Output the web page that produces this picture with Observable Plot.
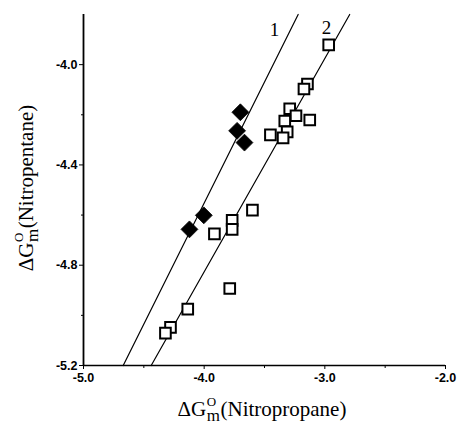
<!DOCTYPE html>
<html>
<head>
<meta charset="utf-8">
<script src="https://cdn.jsdelivr.net/npm/d3@7"></script>
<script src="https://cdn.jsdelivr.net/npm/@observablehq/plot@0.6"></script>
<style>
  html, body { margin: 0; padding: 0; background: #fff; }
  #chart { width: 462px; height: 429px; }
</style>
</head>
<body>
<div id="chart"></div>
<script>
// Series 1 (filled diamonds)
const s1X = [-3.700, -3.727, -3.666, -4.003, -4.122];
const s1Y = [-4.190, -4.264, -4.311, -4.601, -4.657];
// Series 2 (open squares)
const s2X = [-2.968, -3.144, -3.173, -3.291, -3.239, -3.125, -3.332, -3.312, -3.451, -3.346,
             -3.600, -3.768, -3.768, -3.915, -3.788, -4.136, -4.279, -4.321];
const s2Y = [-3.921, -4.077, -4.097, -4.176, -4.204, -4.221, -4.225, -4.268, -4.280, -4.292,
             -4.580, -4.621, -4.657, -4.675, -4.893, -4.975, -5.048, -5.071];
// Fitted lines (end points)
const fit1X = [-4.671, -3.221];
const fit1Y = [-5.2, -3.8];
const fit2X = [-4.439, -2.794];
const fit2Y = [-5.2, -3.8];
// Line labels
const lineLabels = ["1", "2"];
const lineLabelX = [-3.418, -2.986];
const lineLabelY = [-3.862, -3.852];
// Ticks
const xTicks = [-5.0, -4.0, -3.0, -2.0];
const xMinor = [-4.5, -3.5, -2.5];
const yTicks = [-4.0, -4.4, -4.8, -5.2];
const yMinor = [-4.2, -4.6, -5.0];
// Axis titles
const xTitle = "(Nitropropane)";
const yTitle = "(Nitropentane)";

const diamonds = s1X.map((x, i) => ({x, y: s1Y[i]}));
const squares = s2X.map((x, i) => ({x, y: s2Y[i]}));
const fit1 = fit1X.map((x, i) => ({x, y: fit1Y[i]}));
const fit2 = fit2X.map((x, i) => ({x, y: fit2Y[i]}));
const labels = lineLabels.map((t, i) => ({t, x: lineLabelX[i], y: lineLabelY[i]}));

const fmt = d => d.toFixed(1);
const tickFont = {fontFamily: "Liberation Sans, Arial, sans-serif", fontSize: 12.5, fontWeight: "bold"};

const plot = Plot.plot({
  width: 462,
  height: 429,
  marginLeft: 83,
  marginRight: 17,
  marginTop: 14,
  marginBottom: 64,
  style: {background: "#fff", color: "#000", fontFamily: "Liberation Sans, Arial, sans-serif"},
  x: {domain: [-5, -2]},
  y: {domain: [-5.2, -3.8]},
  marks: [
    Plot.line(fit1, {x: "x", y: "y", stroke: "#000", strokeWidth: 1.2}),
    Plot.line(fit2, {x: "x", y: "y", stroke: "#000", strokeWidth: 1.2}),
    Plot.dot(squares, {x: "x", y: "y", symbol: "square", r: 6.0, fill: "#fff", stroke: "#000", strokeWidth: 2}),
    Plot.dot(diamonds, {x: "x", y: "y", symbol: "diamond2", r: 7.6, fill: "#000", stroke: "#000", strokeWidth: 0.8}),
    Plot.text(labels, {x: "x", y: "y", text: "t", fontFamily: "Liberation Serif, Times New Roman, serif", fontSize: 19, fill: "#000"}),
    Plot.axisX({ticks: xTicks, tickFormat: fmt, tickSize: 4, tickPadding: 4, label: null, ...tickFont}),
    Plot.axisX({ticks: xMinor, tickFormat: () => "", tickSize: 3, label: null}),
    Plot.axisY({ticks: yTicks, tickFormat: fmt, tickSize: 4, tickPadding: 2, label: null, ...tickFont}),
    Plot.axisY({ticks: yMinor, tickFormat: () => "", tickSize: 2, label: null}),
    Plot.ruleX([-5], {stroke: "#000", strokeWidth: 1.8}),
    Plot.ruleY([-5.2], {stroke: "#000", strokeWidth: 1.3})
  ]
});
document.getElementById("chart").appendChild(plot);

// Axis titles: ΔG with stacked superscript O and subscript m
const svg = d3.select(plot);
const serif = "Liberation Serif, Times New Roman, serif";
function title(cx, cy, rot, name) {
  const t = svg.append("text")
    .attr("transform", `translate(${cx},${cy}) rotate(${rot})`)
    .attr("text-anchor", "middle")
    .attr("font-family", serif)
    .attr("font-size", 21)
    .attr("fill", "#000");
  t.append("tspan").text("\u0394G");
  t.append("tspan").attr("font-size", 13).attr("dy", -10).attr("dx", 0.5).text("O");
  t.append("tspan").attr("font-size", 17).attr("dy", 15).attr("dx", -9.4).text("m");
  t.append("tspan").attr("dy", -5).attr("dx", 0.5).text(name);
}
title(262, 416, 0, xTitle);
title(33, 188, -90, yTitle);
</script>
</body>
</html>
